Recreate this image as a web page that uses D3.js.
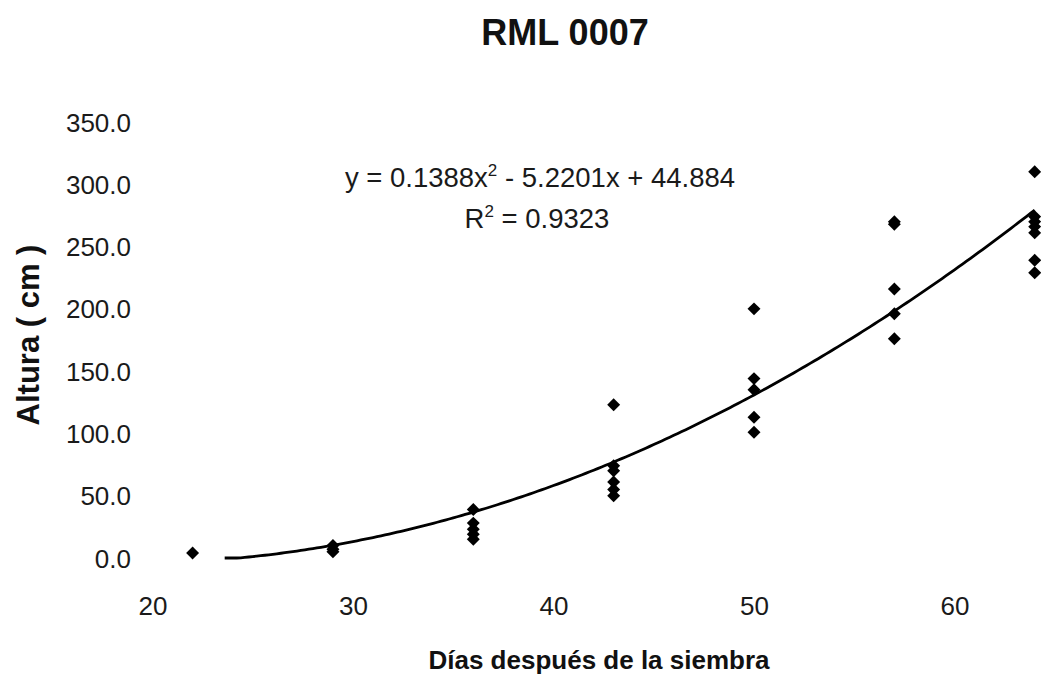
<!DOCTYPE html>
<html>
<head>
<meta charset="utf-8">
<script src="https://cdn.jsdelivr.net/npm/d3@7"></script>
<style>
  html, body { margin: 0; padding: 0; background: #fff; }
  svg { display: block; font-family: "Liberation Sans", Arial, sans-serif; }
</style>
</head>
<body>
<svg id="chart" width="1041" height="677"></svg>
<script>
// ---- data ----
const days = [22, 29, 36, 43, 50, 57, 64];
const h22 = [4];
const h29 = [10, 7, 5];
const h36 = [39, 28, 23, 19, 15];
const h43 = [123, 74, 70, 61, 55, 50];
const h50 = [200, 144, 135, 113, 101];
const h57 = [270, 268, 216, 196, 176];
const h64 = [310, 274, 270, 266, 261, 239, 229];
const heights = [h22, h29, h36, h43, h50, h57, h64];
const xTicks = [20, 30, 40, 50, 60];
const yTicks = [0, 50, 100, 150, 200, 250, 300, 350];
const trendCoef = [0.1388, -5.2201, 44.884]; // a, b, c of trendline
const titleText = "RML 0007";
const xLabel = "Días después de la siembra";
const yLabel = "Altura ( cm )";

const points = [];
days.forEach((d, i) => heights[i].forEach(v => points.push({ x: d, y: v })));

// ---- layout ----
const svg = d3.select("#chart");
svg.append("rect").attr("width", 1041).attr("height", 677).attr("fill", "#fff");

const x = d3.scaleLinear().domain([20, 70]).range([152.5, 152.5 + 50 * 20.05]);
const y = d3.scaleLinear().domain([0, 350]).range([558, 122]);

// axes (labels only, no lines / ticks)
const xAxis = svg.append("g")
  .attr("transform", `translate(0,${y(0)})`)
  .call(d3.axisBottom(x).tickValues(xTicks).tickSize(0).tickPadding(0).tickFormat(d3.format("d")));
xAxis.select(".domain").remove();
xAxis.selectAll("text")
  .attr("y", 48)
  .attr("dy", "0.35em")
  .attr("font-size", 26)
  .attr("font-family", "Liberation Sans, Arial, sans-serif")
  .attr("fill", "#1a1a1a");

const yAxis = svg.append("g")
  .attr("transform", `translate(131,0)`)
  .call(d3.axisLeft(y).tickValues(yTicks).tickSize(0).tickPadding(0).tickFormat(d3.format(".1f")));
yAxis.select(".domain").remove();
yAxis.selectAll("text")
  .attr("x", 0)
  .attr("dy", "0.35em")
  .attr("font-size", 26)
  .attr("font-family", "Liberation Sans, Arial, sans-serif")
  .attr("fill", "#1a1a1a");

// trendline (clipped slightly below zero, as in the reference)
const f = t => trendCoef[0] * t * t + trendCoef[1] * t + trendCoef[2];
const xs = d3.range(days[0], days[days.length - 1] + 0.001, 0.2);
const curve = xs.map(t => ({ x: t, y: f(t) })).filter(p => p.y >= -1.2);
svg.append("path")
  .datum(curve)
  .attr("fill", "none")
  .attr("stroke", "#000")
  .attr("stroke-width", 2.8)
  .attr("stroke-linejoin", "round")
  .attr("d", d3.line().x(d => x(d.x)).y(d => y(Math.max(d.y, 0))));

// markers (diamonds)
svg.append("g").selectAll("path")
  .data(points)
  .join("path")
  .attr("d", d3.symbol(d3.symbolSquare, 84))
  .attr("transform", d => `translate(${x(d.x)},${y(d.y)}) rotate(45)`)
  .attr("fill", "#000");

// title
svg.append("text")
  .attr("x", 565).attr("y", 45)
  .attr("text-anchor", "middle")
  .attr("font-size", 36).attr("font-weight", "bold")
  .attr("fill", "#111")
  .text(titleText);

// equation
const eq = svg.append("text")
  .attr("x", 540).attr("y", 187)
  .attr("text-anchor", "middle")
  .attr("font-size", 27.5)
  .attr("fill", "#1a1a1a");
eq.append("tspan").text("y = 0.1388x");
eq.append("tspan").attr("dy", -11).attr("font-size", 17).text("2");
eq.append("tspan").attr("dy", 11).text(" - 5.2201x + 44.884");

const r2 = svg.append("text")
  .attr("x", 537).attr("y", 228)
  .attr("text-anchor", "middle")
  .attr("font-size", 27.5)
  .attr("fill", "#1a1a1a");
r2.append("tspan").text("R");
r2.append("tspan").attr("dy", -11).attr("font-size", 17).text("2");
r2.append("tspan").attr("dy", 11).text(" = 0.9323");

// axis titles
svg.append("text")
  .attr("x", 599).attr("y", 669)
  .attr("text-anchor", "middle")
  .attr("font-size", 26).attr("font-weight", "bold")
  .attr("fill", "#111")
  .text(xLabel);

svg.append("text")
  .attr("transform", `translate(39,335) rotate(-90)`)
  .attr("text-anchor", "middle")
  .attr("font-size", 31).attr("font-weight", "bold")
  .attr("fill", "#111")
  .text(yLabel);
</script>
</body>
</html>
